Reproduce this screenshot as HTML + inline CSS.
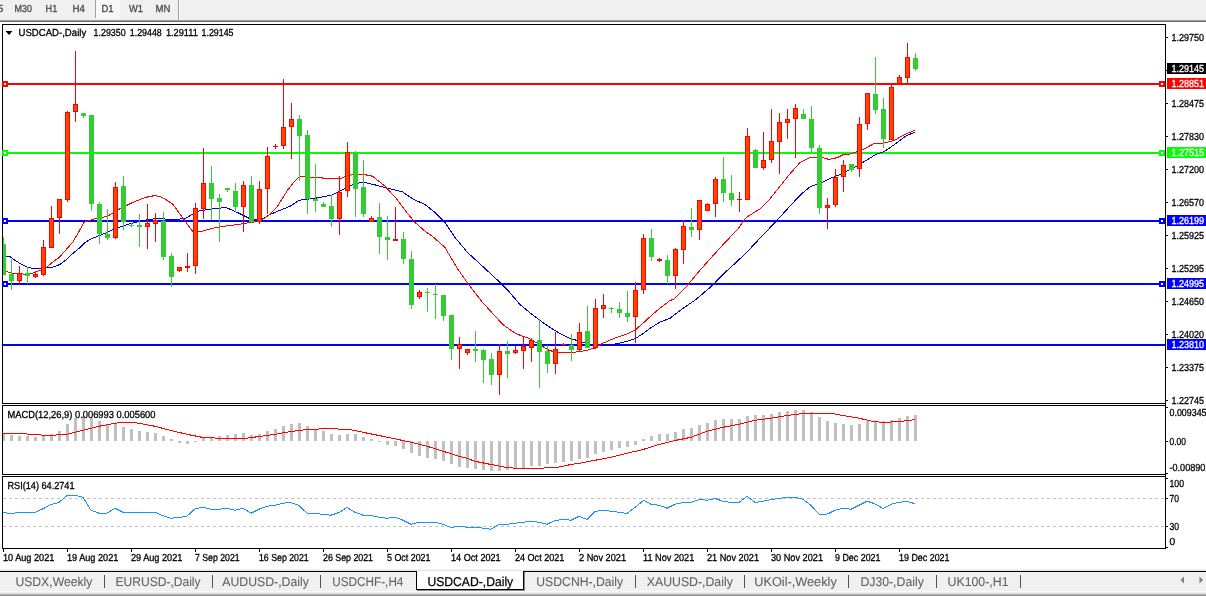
<!DOCTYPE html>
<html lang="en"><head><meta charset="utf-8"><title>USDCAD-,Daily</title>
<style>html,body{margin:0;padding:0;background:#fff;overflow:hidden}svg{display:block}text{font-family:"Liberation Sans", sans-serif;white-space:pre;text-rendering:geometricPrecision}</style></head><body>
<svg width="1206" height="596" viewBox="0 0 1206 596" shape-rendering="crispEdges">
<rect x="0" y="0" width="1206" height="596" fill="#fff"/>
<g id="toolbar">
<rect x="0" y="0" width="1206" height="20" fill="#f0f0f0"/>
<rect x="0" y="20" width="1206" height="1" fill="#a2a2a2"/>
<rect x="0" y="21" width="1206" height="1" fill="#696969"/>
<rect x="0" y="22" width="1206" height="1" fill="#fdfdfd"/>
<rect x="96" y="0" width="24" height="18" fill="#f8f8f8"/>
<rect x="95" y="0" width="1" height="18" fill="#a0a0a0"/>
<rect x="178" y="0" width="1" height="20" fill="#a0a0a0"/>
<rect x="179" y="0" width="1" height="20" fill="#fdfdfd"/>
<text x="-2.5" y="12" font-size="10.2" fill="#4a4a4a" stroke="#4a4a4a" stroke-width="0.3" textLength="5.8" lengthAdjust="spacingAndGlyphs">5</text>
<text x="14.6" y="12" font-size="10.2" fill="#4a4a4a" stroke="#4a4a4a" stroke-width="0.3" textLength="17.4" lengthAdjust="spacingAndGlyphs">M30</text>
<text x="45.6" y="12" font-size="10.2" fill="#4a4a4a" stroke="#4a4a4a" stroke-width="0.3" textLength="11.6" lengthAdjust="spacingAndGlyphs">H1</text>
<text x="72.6" y="12" font-size="10.2" fill="#4a4a4a" stroke="#4a4a4a" stroke-width="0.3" textLength="12.4" lengthAdjust="spacingAndGlyphs">H4</text>
<text x="101.5" y="12" font-size="10.2" fill="#4a4a4a" stroke="#4a4a4a" stroke-width="0.3" textLength="12.1" lengthAdjust="spacingAndGlyphs">D1</text>
<text x="129" y="12" font-size="10.2" fill="#4a4a4a" stroke="#4a4a4a" stroke-width="0.3" textLength="14" lengthAdjust="spacingAndGlyphs">W1</text>
<text x="155.5" y="12" font-size="10.2" fill="#4a4a4a" stroke="#4a4a4a" stroke-width="0.3" textLength="14.8" lengthAdjust="spacingAndGlyphs">MN</text>
</g>
<g id="frames">
<rect x="2" y="24" width="1164" height="1" fill="#000"/>
<rect x="2" y="24" width="1" height="524" fill="#000"/>
<rect x="1165" y="24" width="1" height="525" fill="#000"/>
<rect x="2" y="403" width="1163" height="1" fill="#000"/>
<rect x="0" y="404" width="1165" height="1" fill="#fff"/>
<rect x="2" y="405" width="1163" height="1" fill="#000"/>
<rect x="2" y="474" width="1163" height="1" fill="#000"/>
<rect x="0" y="475" width="1165" height="1" fill="#fff"/>
<rect x="2" y="476" width="1163" height="1" fill="#000"/>
<rect x="2" y="548" width="1164" height="1" fill="#000"/>
</g>
<g id="levels">
<rect x="3" y="83" width="1162" height="2" fill="#ff0000"/>
<rect x="3" y="152" width="1162" height="2" fill="#00ff00"/>
<rect x="3" y="220" width="1162" height="2" fill="#0000ff"/>
<rect x="3" y="283" width="1162" height="2" fill="#0000ff"/>
<rect x="3" y="344" width="1162" height="2" fill="#0000ff"/>
</g>
<g id="ma">
<polyline points="6.0,256.4 10.0,256.7 15.0,260.3 22.0,264.7 28.0,267.3 33.0,268.5 40.0,268.5 46.3,267.7 52.4,267.3 59.4,264.7 65.5,260.3 72.5,253.8 78.0,249.3 85.0,242.5 92.0,238.5 100.0,235.3 107.0,232.5 115.0,228.8 130.0,223.8 142.5,220.5 155.0,218.8 175.0,219.2 185.0,218.8 197.5,211.2 212.5,208.8 226.2,207.5 237.5,212.5 250.0,218.8 260.0,220.3 270.0,214.5 280.0,210.3 290.0,206.3 299.0,200.3 315.0,198.3 331.0,195.3 340.0,191.2 355.0,183.3 365.0,182.5 377.5,185.5 390.0,188.8 402.5,191.8 412.5,198.8 425.0,204.5 435.0,212.5 445.0,222.5 455.0,237.5 467.5,252.5 482.5,266.2 500.0,282.5 507.9,290.3 519.8,304.3 531.8,314.3 539.8,320.3 549.8,327.3 559.8,333.3 569.8,338.3 579.7,341.3 589.7,344.3 601.0,345.5 613.7,344.3 627.6,341.3 635.6,338.3 643.6,333.3 651.6,327.3 659.6,322.3 670.0,318.3 683.0,308.3 696.2,299.3 712.5,285.3 725.0,272.5 737.5,261.2 750.0,248.8 762.5,235.5 775.0,222.5 787.5,208.8 800.0,195.3 810.0,186.8 820.0,183.3 829.7,178.7 843.0,173.3 856.2,166.4 867.9,159.3 876.2,154.3 884.5,151.5 896.1,143.3 906.1,135.7 914.7,132.4" fill="none" stroke="#0000cd" stroke-width="1" stroke-linejoin="round" shape-rendering="crispEdges"/>
<polyline points="6.0,271.3 12.0,273.3 20.0,273.7 26.0,274.3 32.0,273.3 40.0,270.3 46.0,267.6 52.4,262.3 59.4,257.3 65.5,250.3 72.5,242.5 78.0,233.3 83.8,222.5 95.0,218.8 107.5,216.2 120.0,208.8 132.5,202.5 145.0,197.5 155.0,195.5 162.5,197.5 172.5,203.8 182.5,217.5 192.5,231.2 200.0,231.8 212.5,228.2 225.0,226.2 237.5,224.5 250.0,222.5 260.0,221.2 270.0,214.5 277.5,206.2 287.5,190.3 293.0,183.3 299.0,176.8 315.0,177.3 331.0,178.8 340.0,178.8 347.5,175.5 355.0,174.5 362.5,174.2 372.5,176.2 385.0,186.2 396.2,198.3 405.0,210.3 415.0,222.5 425.0,231.2 432.5,236.3 445.0,247.5 457.5,268.8 470.0,286.2 482.5,302.5 489.9,310.3 495.0,316.2 503.9,325.3 515.8,333.7 529.8,338.7 539.8,344.7 549.8,350.7 559.8,352.5 571.8,352.5 585.7,350.7 595.7,347.7 601.7,343.7 615.7,337.7 627.6,333.7 635.6,329.7 643.6,322.7 651.6,315.3 659.6,308.4 670.0,300.5 673.8,299.3 687.5,285.3 700.0,270.3 712.5,256.2 725.0,242.5 737.5,229.5 746.2,217.5 760.0,208.8 770.0,198.8 780.0,186.2 790.0,173.8 800.0,162.5 810.0,157.5 822.5,157.5 828.8,159.4 837.5,157.6 843.0,154.7 848.8,154.3 862.9,149.7 874.5,143.3 882.8,143.3 894.5,140.3 904.4,134.7 914.7,130.3" fill="none" stroke="#ff0000" stroke-width="1" stroke-linejoin="round" shape-rendering="crispEdges"/>
</g>
<g id="candles">
<rect x="3" y="237" width="1" height="38" fill="#32cd32"/>
<rect x="3" y="244" width="3" height="31" fill="#32cd32"/>
<rect x="11" y="259" width="1" height="31" fill="#32cd32"/>
<rect x="9" y="274" width="5" height="7" fill="#32cd32"/>
<rect x="19" y="266" width="1" height="18" fill="#ff0000"/>
<rect x="17" y="273" width="5" height="8" fill="#ff0000"/>
<rect x="18" y="274" width="3" height="6" fill="#ff4500"/>
<rect x="27" y="267" width="1" height="17" fill="#32cd32"/>
<rect x="25" y="273" width="5" height="3" fill="#32cd32"/>
<rect x="35" y="273" width="1" height="5" fill="#ff0000"/>
<rect x="33" y="274" width="5" height="3" fill="#ff0000"/>
<rect x="34" y="275" width="3" height="1" fill="#ff4500"/>
<rect x="43" y="240" width="1" height="36" fill="#ff0000"/>
<rect x="41" y="247" width="5" height="28" fill="#ff0000"/>
<rect x="42" y="248" width="3" height="26" fill="#ff4500"/>
<rect x="51" y="206" width="1" height="42" fill="#ff0000"/>
<rect x="49" y="218" width="5" height="30" fill="#ff0000"/>
<rect x="50" y="219" width="3" height="28" fill="#ff4500"/>
<rect x="59" y="199" width="1" height="35" fill="#ff0000"/>
<rect x="57" y="199" width="5" height="19" fill="#ff0000"/>
<rect x="58" y="200" width="3" height="17" fill="#ff4500"/>
<rect x="67" y="111" width="1" height="91" fill="#ff0000"/>
<rect x="65" y="112" width="5" height="88" fill="#ff0000"/>
<rect x="66" y="113" width="3" height="86" fill="#ff4500"/>
<rect x="75" y="51" width="1" height="71" fill="#ff0000"/>
<rect x="73" y="104" width="5" height="8" fill="#ff0000"/>
<rect x="74" y="105" width="3" height="6" fill="#ff4500"/>
<rect x="83" y="113" width="1" height="5" fill="#32cd32"/>
<rect x="81" y="113" width="5" height="3" fill="#32cd32"/>
<rect x="91" y="115" width="1" height="96" fill="#32cd32"/>
<rect x="89" y="115" width="5" height="89" fill="#32cd32"/>
<rect x="99" y="202" width="1" height="42" fill="#32cd32"/>
<rect x="97" y="204" width="5" height="30" fill="#32cd32"/>
<rect x="107" y="209" width="1" height="31" fill="#32cd32"/>
<rect x="105" y="234" width="5" height="4" fill="#32cd32"/>
<rect x="115" y="182" width="1" height="57" fill="#ff0000"/>
<rect x="113" y="187" width="5" height="51" fill="#ff0000"/>
<rect x="114" y="188" width="3" height="49" fill="#ff4500"/>
<rect x="123" y="176" width="1" height="54" fill="#32cd32"/>
<rect x="121" y="186" width="5" height="36" fill="#32cd32"/>
<rect x="131" y="223" width="1" height="4" fill="#32cd32"/>
<rect x="129" y="225" width="5" height="1" fill="#32cd32"/>
<rect x="139" y="214" width="1" height="33" fill="#32cd32"/>
<rect x="137" y="225" width="5" height="2" fill="#32cd32"/>
<rect x="147" y="204" width="1" height="45" fill="#ff0000"/>
<rect x="145" y="223" width="5" height="4" fill="#ff0000"/>
<rect x="146" y="224" width="3" height="2" fill="#ff4500"/>
<rect x="155" y="213" width="1" height="29" fill="#ff0000"/>
<rect x="153" y="220" width="5" height="4" fill="#ff0000"/>
<rect x="154" y="221" width="3" height="2" fill="#ff4500"/>
<rect x="163" y="212" width="1" height="48" fill="#32cd32"/>
<rect x="161" y="221" width="5" height="36" fill="#32cd32"/>
<rect x="171" y="253" width="1" height="34" fill="#32cd32"/>
<rect x="169" y="256" width="5" height="21" fill="#32cd32"/>
<rect x="179" y="267" width="1" height="5" fill="#ff0000"/>
<rect x="177" y="267" width="5" height="4" fill="#ff0000"/>
<rect x="178" y="268" width="3" height="2" fill="#ff4500"/>
<rect x="187" y="253" width="1" height="19" fill="#ff0000"/>
<rect x="185" y="266" width="5" height="2" fill="#ff0000"/>
<rect x="195" y="203" width="1" height="71" fill="#ff0000"/>
<rect x="193" y="208" width="5" height="58" fill="#ff0000"/>
<rect x="194" y="209" width="3" height="56" fill="#ff4500"/>
<rect x="203" y="148" width="1" height="71" fill="#ff0000"/>
<rect x="201" y="183" width="5" height="26" fill="#ff0000"/>
<rect x="202" y="184" width="3" height="24" fill="#ff4500"/>
<rect x="211" y="166" width="1" height="54" fill="#32cd32"/>
<rect x="209" y="183" width="5" height="16" fill="#32cd32"/>
<rect x="219" y="194" width="1" height="48" fill="#32cd32"/>
<rect x="217" y="198" width="5" height="4" fill="#32cd32"/>
<rect x="227" y="188" width="1" height="4" fill="#32cd32"/>
<rect x="225" y="188" width="5" height="2" fill="#32cd32"/>
<rect x="235" y="183" width="1" height="29" fill="#32cd32"/>
<rect x="233" y="191" width="5" height="16" fill="#32cd32"/>
<rect x="243" y="181" width="1" height="51" fill="#ff0000"/>
<rect x="241" y="185" width="5" height="22" fill="#ff0000"/>
<rect x="242" y="186" width="3" height="20" fill="#ff4500"/>
<rect x="251" y="176" width="1" height="47" fill="#32cd32"/>
<rect x="249" y="185" width="5" height="37" fill="#32cd32"/>
<rect x="259" y="181" width="1" height="43" fill="#ff0000"/>
<rect x="257" y="189" width="5" height="33" fill="#ff0000"/>
<rect x="258" y="190" width="3" height="31" fill="#ff4500"/>
<rect x="267" y="147" width="1" height="67" fill="#ff0000"/>
<rect x="265" y="156" width="5" height="33" fill="#ff0000"/>
<rect x="266" y="157" width="3" height="31" fill="#ff4500"/>
<rect x="275" y="144" width="1" height="5" fill="#ff0000"/>
<rect x="273" y="146" width="5" height="1" fill="#ff0000"/>
<rect x="283" y="79" width="1" height="70" fill="#ff0000"/>
<rect x="281" y="127" width="5" height="19" fill="#ff0000"/>
<rect x="282" y="128" width="3" height="17" fill="#ff4500"/>
<rect x="291" y="103" width="1" height="56" fill="#ff0000"/>
<rect x="289" y="119" width="5" height="8" fill="#ff0000"/>
<rect x="290" y="120" width="3" height="6" fill="#ff4500"/>
<rect x="299" y="115" width="1" height="66" fill="#32cd32"/>
<rect x="297" y="119" width="5" height="17" fill="#32cd32"/>
<rect x="307" y="130" width="1" height="84" fill="#32cd32"/>
<rect x="305" y="135" width="5" height="64" fill="#32cd32"/>
<rect x="315" y="164" width="1" height="48" fill="#32cd32"/>
<rect x="313" y="199" width="5" height="2" fill="#32cd32"/>
<rect x="323" y="202" width="1" height="5" fill="#32cd32"/>
<rect x="321" y="204" width="5" height="3" fill="#32cd32"/>
<rect x="331" y="195" width="1" height="32" fill="#32cd32"/>
<rect x="329" y="206" width="5" height="13" fill="#32cd32"/>
<rect x="339" y="176" width="1" height="59" fill="#ff0000"/>
<rect x="337" y="192" width="5" height="27" fill="#ff0000"/>
<rect x="338" y="193" width="3" height="25" fill="#ff4500"/>
<rect x="347" y="142" width="1" height="55" fill="#ff0000"/>
<rect x="345" y="152" width="5" height="39" fill="#ff0000"/>
<rect x="346" y="153" width="3" height="37" fill="#ff4500"/>
<rect x="355" y="151" width="1" height="66" fill="#32cd32"/>
<rect x="353" y="152" width="5" height="37" fill="#32cd32"/>
<rect x="363" y="160" width="1" height="57" fill="#32cd32"/>
<rect x="361" y="187" width="5" height="27" fill="#32cd32"/>
<rect x="371" y="216" width="1" height="6" fill="#ff0000"/>
<rect x="369" y="218" width="5" height="4" fill="#ff0000"/>
<rect x="370" y="219" width="3" height="2" fill="#ff4500"/>
<rect x="379" y="203" width="1" height="51" fill="#32cd32"/>
<rect x="377" y="217" width="5" height="20" fill="#32cd32"/>
<rect x="387" y="216" width="1" height="44" fill="#32cd32"/>
<rect x="385" y="237" width="5" height="3" fill="#32cd32"/>
<rect x="395" y="207" width="1" height="34" fill="#ff0000"/>
<rect x="393" y="239" width="5" height="2" fill="#ff0000"/>
<rect x="403" y="232" width="1" height="32" fill="#32cd32"/>
<rect x="401" y="239" width="5" height="20" fill="#32cd32"/>
<rect x="411" y="251" width="1" height="58" fill="#32cd32"/>
<rect x="409" y="259" width="5" height="46" fill="#32cd32"/>
<rect x="419" y="290" width="1" height="9" fill="#ff0000"/>
<rect x="417" y="292" width="5" height="5" fill="#ff0000"/>
<rect x="418" y="293" width="3" height="3" fill="#ff4500"/>
<rect x="427" y="288" width="1" height="24" fill="#32cd32"/>
<rect x="425" y="292" width="5" height="1" fill="#32cd32"/>
<rect x="435" y="284" width="1" height="35" fill="#32cd32"/>
<rect x="433" y="294" width="5" height="1" fill="#32cd32"/>
<rect x="443" y="295" width="1" height="26" fill="#32cd32"/>
<rect x="441" y="295" width="5" height="21" fill="#32cd32"/>
<rect x="451" y="315" width="1" height="45" fill="#32cd32"/>
<rect x="449" y="315" width="5" height="34" fill="#32cd32"/>
<rect x="459" y="337" width="1" height="32" fill="#ff0000"/>
<rect x="457" y="344" width="5" height="5" fill="#ff0000"/>
<rect x="458" y="345" width="3" height="3" fill="#ff4500"/>
<rect x="467" y="349" width="1" height="6" fill="#ff0000"/>
<rect x="465" y="349" width="5" height="4" fill="#ff0000"/>
<rect x="466" y="350" width="3" height="2" fill="#ff4500"/>
<rect x="475" y="331" width="1" height="31" fill="#32cd32"/>
<rect x="473" y="349" width="5" height="2" fill="#32cd32"/>
<rect x="483" y="349" width="1" height="34" fill="#32cd32"/>
<rect x="481" y="350" width="5" height="10" fill="#32cd32"/>
<rect x="491" y="353" width="1" height="32" fill="#32cd32"/>
<rect x="489" y="359" width="5" height="16" fill="#32cd32"/>
<rect x="499" y="344" width="1" height="51" fill="#ff0000"/>
<rect x="497" y="351" width="5" height="24" fill="#ff0000"/>
<rect x="498" y="352" width="3" height="22" fill="#ff4500"/>
<rect x="507" y="341" width="1" height="37" fill="#32cd32"/>
<rect x="505" y="351" width="5" height="3" fill="#32cd32"/>
<rect x="515" y="346" width="1" height="8" fill="#ff0000"/>
<rect x="513" y="350" width="5" height="3" fill="#ff0000"/>
<rect x="514" y="351" width="3" height="1" fill="#ff4500"/>
<rect x="523" y="336" width="1" height="33" fill="#ff0000"/>
<rect x="521" y="346" width="5" height="5" fill="#ff0000"/>
<rect x="522" y="347" width="3" height="3" fill="#ff4500"/>
<rect x="531" y="338" width="1" height="24" fill="#ff0000"/>
<rect x="529" y="340" width="5" height="8" fill="#ff0000"/>
<rect x="530" y="341" width="3" height="6" fill="#ff4500"/>
<rect x="539" y="319" width="1" height="69" fill="#32cd32"/>
<rect x="537" y="340" width="5" height="12" fill="#32cd32"/>
<rect x="547" y="345" width="1" height="28" fill="#32cd32"/>
<rect x="545" y="351" width="5" height="13" fill="#32cd32"/>
<rect x="555" y="332" width="1" height="42" fill="#ff0000"/>
<rect x="553" y="349" width="5" height="15" fill="#ff0000"/>
<rect x="554" y="350" width="3" height="13" fill="#ff4500"/>
<rect x="563" y="343" width="1" height="3" fill="#ff0000"/>
<rect x="561" y="344" width="5" height="1" fill="#ff0000"/>
<rect x="571" y="334" width="1" height="27" fill="#32cd32"/>
<rect x="569" y="345" width="5" height="5" fill="#32cd32"/>
<rect x="579" y="323" width="1" height="28" fill="#ff0000"/>
<rect x="577" y="332" width="5" height="18" fill="#ff0000"/>
<rect x="578" y="333" width="3" height="16" fill="#ff4500"/>
<rect x="587" y="306" width="1" height="42" fill="#32cd32"/>
<rect x="585" y="331" width="5" height="17" fill="#32cd32"/>
<rect x="595" y="299" width="1" height="50" fill="#ff0000"/>
<rect x="593" y="308" width="5" height="40" fill="#ff0000"/>
<rect x="594" y="309" width="3" height="38" fill="#ff4500"/>
<rect x="603" y="294" width="1" height="24" fill="#ff0000"/>
<rect x="601" y="305" width="5" height="4" fill="#ff0000"/>
<rect x="602" y="306" width="3" height="2" fill="#ff4500"/>
<rect x="611" y="307" width="1" height="6" fill="#32cd32"/>
<rect x="609" y="308" width="5" height="1" fill="#32cd32"/>
<rect x="619" y="302" width="1" height="16" fill="#32cd32"/>
<rect x="617" y="309" width="5" height="4" fill="#32cd32"/>
<rect x="627" y="291" width="1" height="31" fill="#32cd32"/>
<rect x="625" y="313" width="5" height="4" fill="#32cd32"/>
<rect x="635" y="282" width="1" height="61" fill="#ff0000"/>
<rect x="633" y="290" width="5" height="27" fill="#ff0000"/>
<rect x="634" y="291" width="3" height="25" fill="#ff4500"/>
<rect x="643" y="234" width="1" height="60" fill="#ff0000"/>
<rect x="641" y="238" width="5" height="52" fill="#ff0000"/>
<rect x="642" y="239" width="3" height="50" fill="#ff4500"/>
<rect x="651" y="229" width="1" height="32" fill="#32cd32"/>
<rect x="649" y="238" width="5" height="19" fill="#32cd32"/>
<rect x="659" y="258" width="1" height="4" fill="#ff0000"/>
<rect x="657" y="259" width="5" height="2" fill="#ff0000"/>
<rect x="667" y="255" width="1" height="29" fill="#32cd32"/>
<rect x="665" y="260" width="5" height="16" fill="#32cd32"/>
<rect x="675" y="248" width="1" height="41" fill="#ff0000"/>
<rect x="673" y="249" width="5" height="27" fill="#ff0000"/>
<rect x="674" y="250" width="3" height="25" fill="#ff4500"/>
<rect x="683" y="220" width="1" height="44" fill="#ff0000"/>
<rect x="681" y="226" width="5" height="24" fill="#ff0000"/>
<rect x="682" y="227" width="3" height="22" fill="#ff4500"/>
<rect x="691" y="208" width="1" height="29" fill="#32cd32"/>
<rect x="689" y="227" width="5" height="3" fill="#32cd32"/>
<rect x="699" y="200" width="1" height="40" fill="#ff0000"/>
<rect x="697" y="200" width="5" height="30" fill="#ff0000"/>
<rect x="698" y="201" width="3" height="28" fill="#ff4500"/>
<rect x="707" y="203" width="1" height="8" fill="#ff0000"/>
<rect x="705" y="204" width="5" height="7" fill="#ff0000"/>
<rect x="706" y="205" width="3" height="5" fill="#ff4500"/>
<rect x="715" y="177" width="1" height="40" fill="#ff0000"/>
<rect x="713" y="179" width="5" height="25" fill="#ff0000"/>
<rect x="714" y="180" width="3" height="23" fill="#ff4500"/>
<rect x="723" y="157" width="1" height="45" fill="#32cd32"/>
<rect x="721" y="179" width="5" height="14" fill="#32cd32"/>
<rect x="731" y="175" width="1" height="31" fill="#32cd32"/>
<rect x="729" y="193" width="5" height="7" fill="#32cd32"/>
<rect x="739" y="192" width="1" height="20" fill="#ff0000"/>
<rect x="737" y="199" width="5" height="1" fill="#ff0000"/>
<rect x="747" y="128" width="1" height="72" fill="#ff0000"/>
<rect x="745" y="136" width="5" height="64" fill="#ff0000"/>
<rect x="746" y="137" width="3" height="62" fill="#ff4500"/>
<rect x="755" y="149" width="1" height="19" fill="#32cd32"/>
<rect x="753" y="150" width="5" height="18" fill="#32cd32"/>
<rect x="763" y="132" width="1" height="38" fill="#ff0000"/>
<rect x="761" y="160" width="5" height="8" fill="#ff0000"/>
<rect x="762" y="161" width="3" height="6" fill="#ff4500"/>
<rect x="771" y="109" width="1" height="54" fill="#ff0000"/>
<rect x="769" y="141" width="5" height="19" fill="#ff0000"/>
<rect x="770" y="142" width="3" height="17" fill="#ff4500"/>
<rect x="779" y="113" width="1" height="61" fill="#ff0000"/>
<rect x="777" y="122" width="5" height="20" fill="#ff0000"/>
<rect x="778" y="123" width="3" height="18" fill="#ff4500"/>
<rect x="787" y="109" width="1" height="30" fill="#ff0000"/>
<rect x="785" y="119" width="5" height="4" fill="#ff0000"/>
<rect x="786" y="120" width="3" height="2" fill="#ff4500"/>
<rect x="795" y="104" width="1" height="54" fill="#ff0000"/>
<rect x="793" y="108" width="5" height="11" fill="#ff0000"/>
<rect x="794" y="109" width="3" height="9" fill="#ff4500"/>
<rect x="803" y="109" width="1" height="10" fill="#32cd32"/>
<rect x="801" y="114" width="5" height="5" fill="#32cd32"/>
<rect x="811" y="106" width="1" height="46" fill="#32cd32"/>
<rect x="809" y="119" width="5" height="29" fill="#32cd32"/>
<rect x="819" y="145" width="1" height="69" fill="#32cd32"/>
<rect x="817" y="148" width="5" height="60" fill="#32cd32"/>
<rect x="827" y="198" width="1" height="31" fill="#ff0000"/>
<rect x="825" y="205" width="5" height="3" fill="#ff0000"/>
<rect x="826" y="206" width="3" height="1" fill="#ff4500"/>
<rect x="835" y="169" width="1" height="38" fill="#ff0000"/>
<rect x="833" y="177" width="5" height="28" fill="#ff0000"/>
<rect x="834" y="178" width="3" height="26" fill="#ff4500"/>
<rect x="843" y="160" width="1" height="32" fill="#ff0000"/>
<rect x="841" y="165" width="5" height="12" fill="#ff0000"/>
<rect x="842" y="166" width="3" height="10" fill="#ff4500"/>
<rect x="851" y="164" width="1" height="8" fill="#32cd32"/>
<rect x="849" y="164" width="5" height="6" fill="#32cd32"/>
<rect x="859" y="117" width="1" height="60" fill="#ff0000"/>
<rect x="857" y="124" width="5" height="45" fill="#ff0000"/>
<rect x="858" y="125" width="3" height="43" fill="#ff4500"/>
<rect x="867" y="93" width="1" height="37" fill="#ff0000"/>
<rect x="865" y="93" width="5" height="31" fill="#ff0000"/>
<rect x="866" y="94" width="3" height="29" fill="#ff4500"/>
<rect x="875" y="57" width="1" height="57" fill="#32cd32"/>
<rect x="873" y="94" width="5" height="16" fill="#32cd32"/>
<rect x="883" y="98" width="1" height="50" fill="#32cd32"/>
<rect x="881" y="109" width="5" height="30" fill="#32cd32"/>
<rect x="891" y="85" width="1" height="55" fill="#ff0000"/>
<rect x="889" y="87" width="5" height="53" fill="#ff0000"/>
<rect x="890" y="88" width="3" height="51" fill="#ff4500"/>
<rect x="899" y="75" width="1" height="9" fill="#ff0000"/>
<rect x="897" y="77" width="5" height="7" fill="#ff0000"/>
<rect x="898" y="78" width="3" height="5" fill="#ff4500"/>
<rect x="907" y="43" width="1" height="41" fill="#ff0000"/>
<rect x="905" y="57" width="5" height="21" fill="#ff0000"/>
<rect x="906" y="58" width="3" height="19" fill="#ff4500"/>
<rect x="915" y="53" width="1" height="18" fill="#32cd32"/>
<rect x="913" y="58" width="5" height="11" fill="#32cd32"/>
</g>
<g id="markers">
<rect x="2" y="81" width="6" height="6" fill="#ff0000"/>
<rect x="4" y="83" width="2" height="2" fill="#fff"/>
<rect x="1159" y="81" width="6" height="6" fill="#ff0000"/>
<rect x="1161" y="83" width="2" height="2" fill="#fff"/>
<rect x="2" y="150" width="6" height="6" fill="#00ff00"/>
<rect x="4" y="152" width="2" height="2" fill="#fff"/>
<rect x="1159" y="150" width="6" height="6" fill="#00ff00"/>
<rect x="1161" y="152" width="2" height="2" fill="#fff"/>
<rect x="2" y="218" width="6" height="6" fill="#0000ff"/>
<rect x="4" y="220" width="2" height="2" fill="#fff"/>
<rect x="1159" y="218" width="6" height="6" fill="#0000ff"/>
<rect x="1161" y="220" width="2" height="2" fill="#fff"/>
<rect x="2" y="281" width="6" height="6" fill="#0000ff"/>
<rect x="4" y="283" width="2" height="2" fill="#fff"/>
<rect x="1159" y="281" width="6" height="6" fill="#0000ff"/>
<rect x="1161" y="283" width="2" height="2" fill="#fff"/>
</g>
<g id="priceaxis">
<rect x="1166" y="37" width="2" height="1" fill="#000"/>
<text x="1171.5" y="41" font-size="10.2" fill="#000" stroke="#000" stroke-width="0.3" textLength="32.5" lengthAdjust="spacingAndGlyphs">1.29750</text>
<rect x="1166" y="70" width="2" height="1" fill="#000"/>
<rect x="1166" y="103" width="2" height="1" fill="#000"/>
<text x="1171.5" y="107" font-size="10.2" fill="#000" stroke="#000" stroke-width="0.3" textLength="32.5" lengthAdjust="spacingAndGlyphs">1.28475</text>
<rect x="1166" y="136" width="2" height="1" fill="#000"/>
<text x="1171.5" y="140" font-size="10.2" fill="#000" stroke="#000" stroke-width="0.3" textLength="32.5" lengthAdjust="spacingAndGlyphs">1.27830</text>
<rect x="1166" y="169" width="2" height="1" fill="#000"/>
<text x="1171.5" y="173" font-size="10.2" fill="#000" stroke="#000" stroke-width="0.3" textLength="32.5" lengthAdjust="spacingAndGlyphs">1.27200</text>
<rect x="1166" y="202" width="2" height="1" fill="#000"/>
<text x="1171.5" y="206" font-size="10.2" fill="#000" stroke="#000" stroke-width="0.3" textLength="32.5" lengthAdjust="spacingAndGlyphs">1.26570</text>
<rect x="1166" y="235" width="2" height="1" fill="#000"/>
<text x="1171.5" y="239" font-size="10.2" fill="#000" stroke="#000" stroke-width="0.3" textLength="32.5" lengthAdjust="spacingAndGlyphs">1.25925</text>
<rect x="1166" y="268" width="2" height="1" fill="#000"/>
<text x="1171.5" y="272" font-size="10.2" fill="#000" stroke="#000" stroke-width="0.3" textLength="32.5" lengthAdjust="spacingAndGlyphs">1.25295</text>
<rect x="1166" y="301" width="2" height="1" fill="#000"/>
<text x="1171.5" y="305" font-size="10.2" fill="#000" stroke="#000" stroke-width="0.3" textLength="32.5" lengthAdjust="spacingAndGlyphs">1.24650</text>
<rect x="1166" y="334" width="2" height="1" fill="#000"/>
<text x="1171.5" y="338" font-size="10.2" fill="#000" stroke="#000" stroke-width="0.3" textLength="32.5" lengthAdjust="spacingAndGlyphs">1.24020</text>
<rect x="1166" y="367" width="2" height="1" fill="#000"/>
<text x="1171.5" y="371" font-size="10.2" fill="#000" stroke="#000" stroke-width="0.3" textLength="32.5" lengthAdjust="spacingAndGlyphs">1.23375</text>
<rect x="1166" y="400" width="2" height="1" fill="#000"/>
<text x="1171.5" y="404" font-size="10.2" fill="#000" stroke="#000" stroke-width="0.3" textLength="32.5" lengthAdjust="spacingAndGlyphs">1.22745</text>
<rect x="1167" y="63" width="39" height="11" fill="#000"/>
<text x="1171.5" y="72" font-size="10.2" fill="#fff" stroke="#fff" stroke-width="0.3" textLength="32.5" lengthAdjust="spacingAndGlyphs">1.29145</text>
<rect x="1167" y="78" width="39" height="11" fill="#ff0000"/>
<text x="1171.5" y="87" font-size="10.2" fill="#fff" stroke="#fff" stroke-width="0.3" textLength="32.5" lengthAdjust="spacingAndGlyphs">1.28851</text>
<rect x="1167" y="147" width="39" height="11" fill="#00ff00"/>
<text x="1171.5" y="156" font-size="10.2" fill="#fff" stroke="#fff" stroke-width="0.3" textLength="32.5" lengthAdjust="spacingAndGlyphs">1.27515</text>
<rect x="1167" y="215" width="39" height="11" fill="#0000ff"/>
<text x="1171.5" y="224" font-size="10.2" fill="#fff" stroke="#fff" stroke-width="0.3" textLength="32.5" lengthAdjust="spacingAndGlyphs">1.26199</text>
<rect x="1167" y="278" width="39" height="11" fill="#0000ff"/>
<text x="1171.5" y="287" font-size="10.2" fill="#fff" stroke="#fff" stroke-width="0.3" textLength="32.5" lengthAdjust="spacingAndGlyphs">1.24995</text>
<rect x="1167" y="339" width="39" height="11" fill="#0000ff"/>
<text x="1171.5" y="348" font-size="10.2" fill="#fff" stroke="#fff" stroke-width="0.3" textLength="32.5" lengthAdjust="spacingAndGlyphs">1.23810</text>
</g>
<g id="title">
<path d="M5.5 31 L12.5 31 L9 35 Z" fill="#000" shape-rendering="geometricPrecision"/>
<text x="18.5" y="36" font-size="10.2" fill="#000" stroke="#000" stroke-width="0.3" textLength="67.7" lengthAdjust="spacingAndGlyphs">USDCAD-,Daily</text>
<text y="36" font-size="10.2" fill="#000" stroke="#000" stroke-width="0.3"><tspan x="93.6" textLength="32" lengthAdjust="spacingAndGlyphs">1.29350</tspan> <tspan x="129.8" textLength="32" lengthAdjust="spacingAndGlyphs">1.29448</tspan> <tspan x="165.9" textLength="32" lengthAdjust="spacingAndGlyphs">1.29111</tspan> <tspan x="201.5" textLength="32" lengthAdjust="spacingAndGlyphs">1.29145</tspan></text>
</g>
<g id="macd">
<rect x="3" y="434" width="2" height="7" fill="#c0c0c0"/>
<rect x="10" y="435" width="3" height="6" fill="#c0c0c0"/>
<rect x="18" y="436" width="3" height="5" fill="#c0c0c0"/>
<rect x="26" y="436" width="3" height="5" fill="#c0c0c0"/>
<rect x="34" y="437" width="3" height="4" fill="#c0c0c0"/>
<rect x="42" y="435" width="3" height="6" fill="#c0c0c0"/>
<rect x="50" y="434" width="3" height="7" fill="#c0c0c0"/>
<rect x="58" y="431" width="3" height="10" fill="#c0c0c0"/>
<rect x="66" y="424" width="3" height="17" fill="#c0c0c0"/>
<rect x="74" y="418" width="3" height="23" fill="#c0c0c0"/>
<rect x="82" y="416" width="3" height="25" fill="#c0c0c0"/>
<rect x="90" y="418" width="3" height="23" fill="#c0c0c0"/>
<rect x="98" y="421" width="3" height="20" fill="#c0c0c0"/>
<rect x="106" y="424" width="3" height="17" fill="#c0c0c0"/>
<rect x="114" y="424" width="3" height="17" fill="#c0c0c0"/>
<rect x="122" y="427" width="3" height="14" fill="#c0c0c0"/>
<rect x="130" y="429" width="3" height="12" fill="#c0c0c0"/>
<rect x="138" y="431" width="3" height="10" fill="#c0c0c0"/>
<rect x="146" y="432" width="3" height="9" fill="#c0c0c0"/>
<rect x="154" y="433" width="3" height="8" fill="#c0c0c0"/>
<rect x="162" y="436" width="3" height="5" fill="#c0c0c0"/>
<rect x="170" y="439" width="3" height="2" fill="#c0c0c0"/>
<rect x="178" y="441" width="3" height="2" fill="#c0c0c0"/>
<rect x="186" y="441" width="3" height="3" fill="#c0c0c0"/>
<rect x="194" y="441" width="3" height="1" fill="#c0c0c0"/>
<rect x="202" y="438" width="3" height="3" fill="#c0c0c0"/>
<rect x="210" y="437" width="3" height="4" fill="#c0c0c0"/>
<rect x="218" y="436" width="3" height="5" fill="#c0c0c0"/>
<rect x="226" y="435" width="3" height="6" fill="#c0c0c0"/>
<rect x="234" y="434" width="3" height="7" fill="#c0c0c0"/>
<rect x="242" y="433" width="3" height="8" fill="#c0c0c0"/>
<rect x="250" y="435" width="3" height="6" fill="#c0c0c0"/>
<rect x="258" y="434" width="3" height="7" fill="#c0c0c0"/>
<rect x="266" y="431" width="3" height="10" fill="#c0c0c0"/>
<rect x="274" y="429" width="3" height="12" fill="#c0c0c0"/>
<rect x="282" y="426" width="3" height="15" fill="#c0c0c0"/>
<rect x="290" y="424" width="3" height="17" fill="#c0c0c0"/>
<rect x="298" y="423" width="3" height="18" fill="#c0c0c0"/>
<rect x="306" y="426" width="3" height="15" fill="#c0c0c0"/>
<rect x="314" y="430" width="3" height="11" fill="#c0c0c0"/>
<rect x="322" y="431" width="3" height="10" fill="#c0c0c0"/>
<rect x="330" y="434" width="3" height="7" fill="#c0c0c0"/>
<rect x="338" y="435" width="3" height="6" fill="#c0c0c0"/>
<rect x="346" y="434" width="3" height="7" fill="#c0c0c0"/>
<rect x="354" y="434" width="3" height="7" fill="#c0c0c0"/>
<rect x="362" y="437" width="3" height="4" fill="#c0c0c0"/>
<rect x="370" y="439" width="3" height="2" fill="#c0c0c0"/>
<rect x="378" y="441" width="3" height="1" fill="#c0c0c0"/>
<rect x="386" y="441" width="3" height="4" fill="#c0c0c0"/>
<rect x="394" y="441" width="3" height="5" fill="#c0c0c0"/>
<rect x="402" y="441" width="3" height="8" fill="#c0c0c0"/>
<rect x="410" y="441" width="3" height="12" fill="#c0c0c0"/>
<rect x="418" y="441" width="3" height="15" fill="#c0c0c0"/>
<rect x="426" y="441" width="3" height="17" fill="#c0c0c0"/>
<rect x="434" y="441" width="3" height="18" fill="#c0c0c0"/>
<rect x="442" y="441" width="3" height="20" fill="#c0c0c0"/>
<rect x="450" y="441" width="3" height="23" fill="#c0c0c0"/>
<rect x="458" y="441" width="3" height="26" fill="#c0c0c0"/>
<rect x="466" y="441" width="3" height="27" fill="#c0c0c0"/>
<rect x="474" y="441" width="3" height="28" fill="#c0c0c0"/>
<rect x="482" y="441" width="3" height="29" fill="#c0c0c0"/>
<rect x="490" y="441" width="3" height="30" fill="#c0c0c0"/>
<rect x="498" y="441" width="3" height="30" fill="#c0c0c0"/>
<rect x="506" y="441" width="3" height="29" fill="#c0c0c0"/>
<rect x="514" y="441" width="3" height="28" fill="#c0c0c0"/>
<rect x="522" y="441" width="3" height="27" fill="#c0c0c0"/>
<rect x="530" y="441" width="3" height="25" fill="#c0c0c0"/>
<rect x="538" y="441" width="3" height="25" fill="#c0c0c0"/>
<rect x="546" y="441" width="3" height="23" fill="#c0c0c0"/>
<rect x="554" y="441" width="3" height="22" fill="#c0c0c0"/>
<rect x="562" y="441" width="3" height="21" fill="#c0c0c0"/>
<rect x="570" y="441" width="3" height="20" fill="#c0c0c0"/>
<rect x="578" y="441" width="3" height="18" fill="#c0c0c0"/>
<rect x="586" y="441" width="3" height="17" fill="#c0c0c0"/>
<rect x="594" y="441" width="3" height="13" fill="#c0c0c0"/>
<rect x="602" y="441" width="3" height="11" fill="#c0c0c0"/>
<rect x="610" y="441" width="3" height="9" fill="#c0c0c0"/>
<rect x="618" y="441" width="3" height="7" fill="#c0c0c0"/>
<rect x="626" y="441" width="3" height="6" fill="#c0c0c0"/>
<rect x="634" y="441" width="3" height="4" fill="#c0c0c0"/>
<rect x="642" y="439" width="3" height="2" fill="#c0c0c0"/>
<rect x="650" y="436" width="3" height="5" fill="#c0c0c0"/>
<rect x="658" y="434" width="3" height="7" fill="#c0c0c0"/>
<rect x="666" y="434" width="3" height="7" fill="#c0c0c0"/>
<rect x="674" y="432" width="3" height="9" fill="#c0c0c0"/>
<rect x="682" y="429" width="3" height="12" fill="#c0c0c0"/>
<rect x="690" y="428" width="3" height="13" fill="#c0c0c0"/>
<rect x="698" y="425" width="3" height="16" fill="#c0c0c0"/>
<rect x="706" y="423" width="3" height="18" fill="#c0c0c0"/>
<rect x="714" y="420" width="3" height="21" fill="#c0c0c0"/>
<rect x="722" y="419" width="3" height="22" fill="#c0c0c0"/>
<rect x="730" y="419" width="3" height="22" fill="#c0c0c0"/>
<rect x="738" y="419" width="3" height="22" fill="#c0c0c0"/>
<rect x="746" y="416" width="3" height="25" fill="#c0c0c0"/>
<rect x="754" y="415" width="3" height="26" fill="#c0c0c0"/>
<rect x="762" y="415" width="3" height="26" fill="#c0c0c0"/>
<rect x="770" y="414" width="3" height="27" fill="#c0c0c0"/>
<rect x="778" y="412" width="3" height="29" fill="#c0c0c0"/>
<rect x="786" y="411" width="3" height="30" fill="#c0c0c0"/>
<rect x="794" y="410" width="3" height="31" fill="#c0c0c0"/>
<rect x="802" y="410" width="3" height="31" fill="#c0c0c0"/>
<rect x="810" y="412" width="3" height="29" fill="#c0c0c0"/>
<rect x="818" y="417" width="3" height="24" fill="#c0c0c0"/>
<rect x="826" y="421" width="3" height="20" fill="#c0c0c0"/>
<rect x="834" y="423" width="3" height="18" fill="#c0c0c0"/>
<rect x="842" y="424" width="3" height="17" fill="#c0c0c0"/>
<rect x="850" y="425" width="3" height="16" fill="#c0c0c0"/>
<rect x="858" y="424" width="3" height="17" fill="#c0c0c0"/>
<rect x="866" y="421" width="3" height="20" fill="#c0c0c0"/>
<rect x="874" y="422" width="3" height="19" fill="#c0c0c0"/>
<rect x="882" y="421" width="3" height="20" fill="#c0c0c0"/>
<rect x="890" y="420" width="3" height="21" fill="#c0c0c0"/>
<rect x="898" y="418" width="3" height="23" fill="#c0c0c0"/>
<rect x="906" y="416" width="3" height="25" fill="#c0c0c0"/>
<rect x="914" y="415" width="3" height="26" fill="#c0c0c0"/>
<polyline points="3.0,433.2 19.0,433.8 35.0,434.2 43.0,435.3 51.0,435.3 67.0,434.3 83.0,430.3 99.0,426.3 115.0,423.2 127.5,422.2 139.0,423.2 155.0,426.3 171.0,430.5 187.0,434.3 203.0,437.5 219.0,438.2 235.0,438.5 245.0,438.5 259.0,436.5 275.0,434.3 291.0,431.5 299.0,430.5 307.0,429.5 315.0,429.5 323.0,428.5 335.0,428.5 339.0,429.2 350.0,429.5 363.0,432.3 379.0,435.5 395.0,438.8 411.0,442.3 427.0,446.2 443.0,451.2 459.0,456.2 467.0,458.3 475.0,461.3 491.0,464.5 507.0,467.5 515.0,468.2 540.0,468.2 557.5,467.3 571.0,464.5 580.0,463.2 595.0,460.3 611.0,457.3 627.0,453.3 643.0,449.5 659.0,444.5 675.0,440.5 691.0,437.3 707.0,431.2 723.0,427.3 739.0,424.3 755.0,420.3 771.0,418.2 787.0,415.5 803.0,413.5 815.0,413.3 830.0,413.2 843.0,415.5 859.0,418.2 872.5,421.3 883.0,422.4 898.0,421.7 915.0,419.6" fill="none" stroke="#ff0000" stroke-width="1" stroke-linejoin="round" shape-rendering="crispEdges"/>
<text x="7.5" y="418" font-size="10.2" fill="#000" stroke="#000" stroke-width="0.3" textLength="148" lengthAdjust="spacingAndGlyphs">MACD(12,26,9) 0.006993 0.005600</text>
<text x="1169.5" y="416.0" font-size="10.2" fill="#000" stroke="#000" stroke-width="0.3" textLength="37" lengthAdjust="spacingAndGlyphs">0.009345</text>
<text x="1169.5" y="445.0" font-size="10.2" fill="#000" stroke="#000" stroke-width="0.3" textLength="16.5" lengthAdjust="spacingAndGlyphs">0.00</text>
<text x="1169.5" y="471.1" font-size="10.2" fill="#000" stroke="#000" stroke-width="0.3" textLength="41" lengthAdjust="spacingAndGlyphs">-0.008902</text>
<rect x="1166" y="407" width="2" height="1" fill="#000"/>
<rect x="1166" y="441" width="2" height="1" fill="#000"/>
<rect x="1166" y="473" width="2" height="1" fill="#000"/>
</g>
<g id="rsi">
<line x1="3" y1="498.5" x2="1165" y2="498.5" stroke="#c0c0c0" stroke-width="1" stroke-dasharray="3 3"/>
<line x1="3" y1="526.5" x2="1165" y2="526.5" stroke="#c0c0c0" stroke-width="1" stroke-dasharray="3 3"/>
<polyline points="3.0,512.5 11.0,513.5 19.0,512.5 35.0,512.5 43.0,508.8 51.0,504.5 59.0,502.5 67.0,495.5 75.0,495.2 83.0,497.3 91.0,510.3 99.0,513.2 107.0,513.2 115.0,508.2 123.0,512.2 155.0,512.2 163.0,515.8 171.0,518.2 179.0,517.5 187.0,516.2 195.0,508.8 203.0,507.3 211.0,509.2 219.0,509.2 227.0,508.3 235.0,510.3 243.0,508.2 251.0,513.2 259.0,509.2 267.0,506.2 275.0,505.3 283.0,503.2 291.0,502.5 299.0,505.5 307.0,513.2 317.5,513.5 323.0,514.5 331.0,515.2 339.0,512.5 347.0,507.5 355.0,512.3 363.0,515.2 371.0,515.5 379.0,517.3 387.0,518.2 395.0,517.2 403.0,520.2 411.0,524.2 419.0,522.2 435.0,522.2 443.0,524.2 451.0,527.5 459.0,526.2 467.0,527.2 477.5,527.2 483.0,528.2 491.0,529.2 499.0,524.2 507.0,524.2 515.0,523.2 523.0,522.2 531.0,521.2 539.0,522.2 547.0,524.2 555.0,520.5 563.0,519.5 571.0,520.2 579.0,516.2 587.0,519.5 595.0,511.5 603.0,510.3 611.0,511.2 619.0,512.2 627.0,513.5 635.0,507.5 643.8,500.2 651.0,504.3 659.0,505.2 667.0,508.2 675.0,504.2 683.0,502.5 691.0,502.5 699.0,499.5 707.0,500.2 715.0,498.5 723.0,501.2 731.0,502.5 739.0,502.5 747.0,496.2 755.0,502.5 763.0,501.2 771.0,499.5 779.0,498.5 787.0,497.2 795.0,497.2 803.0,499.3 811.0,505.3 819.0,514.2 827.0,514.2 835.0,510.3 843.0,508.2 851.0,509.2 859.0,505.3 867.0,501.2 875.0,503.8 883.0,508.5 891.0,504.3 899.0,502.3 907.0,501.5 915.0,503.7" fill="none" stroke="#1e90ff" stroke-width="1" stroke-linejoin="round" shape-rendering="crispEdges"/>
<text x="7.5" y="489" font-size="10.2" fill="#000" stroke="#000" stroke-width="0.3" textLength="67" lengthAdjust="spacingAndGlyphs">RSI(14) 64.2741</text>
<text x="1169.5" y="486.7" font-size="10.2" fill="#000" stroke="#000" stroke-width="0.3" textLength="14.5" lengthAdjust="spacingAndGlyphs">100</text>
<text x="1169.5" y="502.0" font-size="10.2" fill="#000" stroke="#000" stroke-width="0.3" textLength="9.5" lengthAdjust="spacingAndGlyphs">70</text>
<text x="1169.5" y="530.0" font-size="10.2" fill="#000" stroke="#000" stroke-width="0.3" textLength="9.5" lengthAdjust="spacingAndGlyphs">30</text>
<text x="1169.5" y="545.0" font-size="10.2" fill="#000" stroke="#000" stroke-width="0.3">0</text>
<rect x="1166" y="478" width="2" height="1" fill="#000"/>
<rect x="1166" y="498" width="2" height="1" fill="#000"/>
<rect x="1166" y="526" width="2" height="1" fill="#000"/>
<rect x="1166" y="547" width="2" height="1" fill="#000"/>
</g>
<g id="dates">
<rect x="3" y="548" width="1" height="4" fill="#000"/>
<text x="3" y="561" font-size="10.2" fill="#000" stroke="#000" stroke-width="0.3" textLength="51.3" lengthAdjust="spacingAndGlyphs">10 Aug 2021</text>
<rect x="67" y="548" width="1" height="4" fill="#000"/>
<text x="67" y="561" font-size="10.2" fill="#000" stroke="#000" stroke-width="0.3" textLength="51.3" lengthAdjust="spacingAndGlyphs">19 Aug 2021</text>
<rect x="131" y="548" width="1" height="4" fill="#000"/>
<text x="131" y="561" font-size="10.2" fill="#000" stroke="#000" stroke-width="0.3" textLength="51.3" lengthAdjust="spacingAndGlyphs">29 Aug 2021</text>
<rect x="195" y="548" width="1" height="4" fill="#000"/>
<text x="195" y="561" font-size="10.2" fill="#000" stroke="#000" stroke-width="0.3" textLength="44.6" lengthAdjust="spacingAndGlyphs">7 Sep 2021</text>
<rect x="259" y="548" width="1" height="4" fill="#000"/>
<text x="259" y="561" font-size="10.2" fill="#000" stroke="#000" stroke-width="0.3" textLength="49.7" lengthAdjust="spacingAndGlyphs">16 Sep 2021</text>
<rect x="323" y="548" width="1" height="4" fill="#000"/>
<text x="323" y="561" font-size="10.2" fill="#000" stroke="#000" stroke-width="0.3" textLength="50" lengthAdjust="spacingAndGlyphs">26 Sep 2021</text>
<rect x="387" y="548" width="1" height="4" fill="#000"/>
<text x="387" y="561" font-size="10.2" fill="#000" stroke="#000" stroke-width="0.3" textLength="43.5" lengthAdjust="spacingAndGlyphs">5 Oct 2021</text>
<rect x="451" y="548" width="1" height="4" fill="#000"/>
<text x="451" y="561" font-size="10.2" fill="#000" stroke="#000" stroke-width="0.3" textLength="49.7" lengthAdjust="spacingAndGlyphs">14 Oct 2021</text>
<rect x="515" y="548" width="1" height="4" fill="#000"/>
<text x="515" y="561" font-size="10.2" fill="#000" stroke="#000" stroke-width="0.3" textLength="49.3" lengthAdjust="spacingAndGlyphs">24 Oct 2021</text>
<rect x="579" y="548" width="1" height="4" fill="#000"/>
<text x="579" y="561" font-size="10.2" fill="#000" stroke="#000" stroke-width="0.3" textLength="47" lengthAdjust="spacingAndGlyphs">2 Nov 2021</text>
<rect x="643" y="548" width="1" height="4" fill="#000"/>
<text x="643" y="561" font-size="10.2" fill="#000" stroke="#000" stroke-width="0.3" textLength="51.3" lengthAdjust="spacingAndGlyphs">11 Nov 2021</text>
<rect x="707" y="548" width="1" height="4" fill="#000"/>
<text x="707" y="561" font-size="10.2" fill="#000" stroke="#000" stroke-width="0.3" textLength="52" lengthAdjust="spacingAndGlyphs">21 Nov 2021</text>
<rect x="771" y="548" width="1" height="4" fill="#000"/>
<text x="771" y="561" font-size="10.2" fill="#000" stroke="#000" stroke-width="0.3" textLength="52" lengthAdjust="spacingAndGlyphs">30 Nov 2021</text>
<rect x="835" y="548" width="1" height="4" fill="#000"/>
<text x="835" y="561" font-size="10.2" fill="#000" stroke="#000" stroke-width="0.3" textLength="45.5" lengthAdjust="spacingAndGlyphs">9 Dec 2021</text>
<rect x="899" y="548" width="1" height="4" fill="#000"/>
<text x="899" y="561" font-size="10.2" fill="#000" stroke="#000" stroke-width="0.3" textLength="50.5" lengthAdjust="spacingAndGlyphs">19 Dec 2021</text>
</g>
<g id="tabs">
<rect x="0" y="569" width="1206" height="1" fill="#f2f2f2"/>
<rect x="0" y="570" width="1206" height="1" fill="#e6e6e6"/>
<rect x="0" y="571" width="1206" height="1" fill="#000"/>
<rect x="0" y="572" width="1206" height="19" fill="#f0f0f0"/>
<rect x="0" y="591" width="1206" height="1" fill="#fbfbfb"/>
<rect x="0" y="592" width="1206" height="1" fill="#ececec"/>
<rect x="0" y="593" width="1206" height="1" fill="#dedede"/>
<rect x="0" y="594" width="1206" height="1" fill="#b4b4b4"/>
<rect x="0" y="595" width="1206" height="1" fill="#8c8c8c"/>
<rect x="417" y="571" width="107" height="19" fill="#fff"/>
<rect x="416" y="571" width="1" height="19" fill="#000"/>
<rect x="416" y="589" width="108" height="1" fill="#000"/>
<rect x="523" y="571" width="1" height="19" fill="#000"/>
<rect x="524" y="572" width="1" height="18" fill="#8a8a8a"/>
<rect x="417" y="590" width="108" height="1" fill="#8a8a8a"/>
<text x="15.4" y="586" font-size="12.8" fill="#646464" stroke="#646464" stroke-width="0.1" textLength="77.0" lengthAdjust="spacingAndGlyphs">USDX,Weekly</text>
<text x="115.6" y="586" font-size="12.8" fill="#646464" stroke="#646464" stroke-width="0.1" textLength="84.9" lengthAdjust="spacingAndGlyphs">EURUSD-,Daily</text>
<text x="222.3" y="586" font-size="12.8" fill="#646464" stroke="#646464" stroke-width="0.1" textLength="86.6" lengthAdjust="spacingAndGlyphs">AUDUSD-,Daily</text>
<text x="332.3" y="586" font-size="12.8" fill="#646464" stroke="#646464" stroke-width="0.1" textLength="71.1" lengthAdjust="spacingAndGlyphs">USDCHF-,H4</text>
<text x="427.4" y="586" font-size="12.8" fill="#000" stroke="#000" stroke-width="0.25" textLength="85.8" lengthAdjust="spacingAndGlyphs">USDCAD-,Daily</text>
<text x="536.3" y="586" font-size="12.8" fill="#646464" stroke="#646464" stroke-width="0.1" textLength="86.8" lengthAdjust="spacingAndGlyphs">USDCNH-,Daily</text>
<text x="646.8" y="586" font-size="12.8" fill="#646464" stroke="#646464" stroke-width="0.1" textLength="86.0" lengthAdjust="spacingAndGlyphs">XAUUSD-,Daily</text>
<text x="754.2" y="586" font-size="12.8" fill="#646464" stroke="#646464" stroke-width="0.1" textLength="82.6" lengthAdjust="spacingAndGlyphs">UKOil-,Weekly</text>
<text x="860.4" y="586" font-size="12.8" fill="#646464" stroke="#646464" stroke-width="0.1" textLength="63.4" lengthAdjust="spacingAndGlyphs">DJ30-,Daily</text>
<text x="947.5" y="586" font-size="12.8" fill="#646464" stroke="#646464" stroke-width="0.1" textLength="61.0" lengthAdjust="spacingAndGlyphs">UK100-,H1</text>
<rect x="104" y="575" width="1" height="13" fill="#555"/>
<rect x="212" y="575" width="1" height="13" fill="#555"/>
<rect x="320" y="575" width="1" height="13" fill="#555"/>
<rect x="635" y="575" width="1" height="13" fill="#555"/>
<rect x="744" y="575" width="1" height="13" fill="#555"/>
<rect x="848" y="575" width="1" height="13" fill="#555"/>
<rect x="936" y="575" width="1" height="13" fill="#555"/>
<rect x="1020" y="575" width="1" height="13" fill="#555"/>
<path d="M1184 576.5 L1184 583.5 L1180.5 580 Z" fill="#808080" shape-rendering="geometricPrecision"/>
<path d="M1199.5 576.5 L1199.5 583.5 L1203 580 Z" fill="#808080" shape-rendering="geometricPrecision"/>
</g>
</svg></body></html>
